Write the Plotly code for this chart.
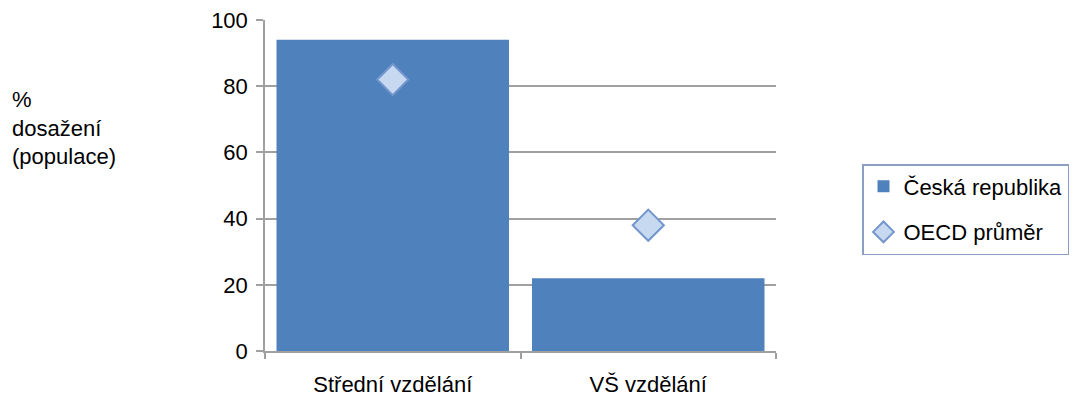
import plotly.graph_objects as go

categories = ["Střední vzdělání", "VŠ vzdělání"]
cz_values = [94, 22]
oecd_values = [82, 38]
y_ticks = [0, 20, 40, 60, 80, 100]

FONT = "Liberation Sans, Arial, sans-serif"

fig = go.Figure()
fig.add_trace(go.Bar(
    x=categories, y=cz_values, name="Česká republika",
    marker=dict(color="#4f81bd", line=dict(width=0)),
    width=0.91, legendgroup="a",
))
fig.add_trace(go.Scatter(
    x=categories, y=oecd_values, name="OECD průměr", mode="markers",
    marker=dict(symbol="diamond", size=24, color="#c6d9f1",
                line=dict(color="#7396cc", width=2)),
    legendgroup="b",
))

fig.update_layout(
    width=1080, height=401,
    margin=dict(l=265, r=303, t=20, b=50),
    paper_bgcolor="white", plot_bgcolor="white",
    font=dict(family=FONT, size=22, color="#000000"),
    showlegend=True,
    legend=dict(
        x=(862 - 265) / 512, y=(351 - 164) / 331, xanchor="left", yanchor="top",
        bordercolor="#8a9fc2", borderwidth=1.5,
        font=dict(size=22, family=FONT),
        tracegroupgap=14, itemwidth=30, entrywidth=190,
    ),
    xaxis=dict(
        range=[-0.5, 1.5], showgrid=False, showline=True,
        linecolor="#a0a0a0", linewidth=1.5,
        ticks="outside", tickson="boundaries", ticklen=6,
        tickcolor="#a0a0a0", tickwidth=1.5,
        tickfont=dict(size=22), ticklabelstandoff=13, automargin=False,
    ),
    yaxis=dict(
        range=[0, 100], tickvals=y_ticks, showgrid=True,
        gridcolor="#a0a0a0", gridwidth=1.5,
        showline=True, linecolor="#a0a0a0", linewidth=1.5,
        ticks="outside", ticklen=7, tickcolor="#a0a0a0", tickwidth=1.5,
        tickfont=dict(size=22), zeroline=False,
        ticklabelstandoff=4, automargin=False,
    ),
    annotations=[dict(
        text="%<br>dosažení<br>(populace)", xref="paper", yref="paper",
        x=(9 - 265) / 512, y=(351 - 85) / 331, xanchor="left", yanchor="top",
        align="left", showarrow=False, font=dict(size=22, family=FONT),
    )],
)

fig.write_html("out.html", config={"displayModeBar": False},
               post_script="document.body.style.margin='0';")
